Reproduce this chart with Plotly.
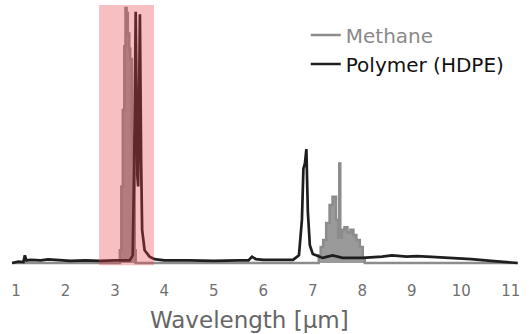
import plotly.graph_objects as go

# Wavelength grid (µm) and absorbance (normalised)
hdpe_wl = [0.92, 1.05, 1.15, 1.18, 1.21, 1.3, 1.5, 1.65, 1.8, 2.1, 2.4, 2.7, 3.0, 3.3, 3.36, 3.39,
           3.42, 3.45, 3.47, 3.505, 3.53, 3.55, 3.6, 3.7, 3.8, 4.0, 4.5, 5.0, 5.5, 5.7, 5.77,
           5.85, 6.0, 6.2, 6.4, 6.6, 6.72, 6.78, 6.81, 6.84, 6.87, 6.9, 6.94, 7.0, 7.2,
           7.4, 7.6, 8.0, 8.4, 8.6, 8.9, 9.1, 9.4, 9.8, 10.2, 10.6, 11.0, 11.14]
hdpe_abs = [0.0, 0.005, 0.004, 0.03, 0.01, 0.012, 0.01, 0.014, 0.012, 0.008, 0.01, 0.008, 0.01,
            0.01, 0.03, 0.4, 0.985, 0.35, 0.3, 0.975, 0.4, 0.13, 0.05, 0.025, 0.015, 0.01,
            0.01, 0.008, 0.01, 0.01, 0.025, 0.015, 0.012, 0.012, 0.01, 0.012, 0.03, 0.17,
            0.37, 0.39, 0.447, 0.2, 0.07, 0.035, 0.02, 0.03, 0.02, 0.02, 0.025, 0.03, 0.025,
            0.027, 0.024, 0.02, 0.015, 0.008, 0.004, 0.0]

methane_wl = [0.92, 3.08, 3.10, 3.13, 3.16, 3.19, 3.215, 3.235, 3.26, 3.29, 3.31, 3.33, 3.34,
              3.36, 3.39, 3.40, 3.42, 7.08, 7.12, 7.16, 7.21, 7.27, 7.34, 7.40, 7.47, 7.51,
              7.535, 7.555, 7.59, 7.64, 7.70, 7.76, 7.82, 7.88, 7.95, 8.01, 8.05, 11.14]
methane_abs = [0.0, 0.0, 0.05, 0.3, 0.6, 0.85, 1.0, 0.98, 0.9, 0.84, 0.8, 0.8, 0.5, 0.4, 0.35,
               0.05, 0.0, 0.0, 0.03, 0.063, 0.09, 0.157, 0.227, 0.26, 0.17, 0.1, 0.39, 0.1,
               0.13, 0.14, 0.12, 0.13, 0.11, 0.09, 0.063, 0.02, 0.0, 0.0]

x_ticks = [1, 2, 3, 4, 5, 6, 7, 8, 9, 10, 11]
highlight = [2.68, 3.79]

fig = go.Figure()
# methane filled band (no legend entry)
fig.add_trace(go.Scatter(
    x=methane_wl, y=methane_abs, mode="lines", line_shape="hv", showlegend=False,
    line=dict(color="#8c8c8c", width=1.5), fill="tozeroy", fillcolor="#9a9a9a",
    hoverinfo="skip"))
# methane outline (legend entry as a line)
fig.add_trace(go.Scatter(
    x=methane_wl, y=methane_abs, mode="lines", line_shape="hv",
    name="<span style='color:#8a8a8a'>Methane</span>",
    line=dict(color="#8c8c8c", width=2.5)))
fig.add_trace(go.Scatter(
    x=hdpe_wl, y=hdpe_abs, mode="lines",
    name="<span style='color:#111111'>Polymer (HDPE)</span>",
    line=dict(color="#1e1e1e", width=2.7)))

fig.add_shape(type="rect", xref="x", yref="paper", x0=highlight[0], x1=highlight[1],
              y0=0.01, y1=1.0, line_width=0, fillcolor="rgba(235,60,70,0.33)", layer="above")

fig.add_annotation(text="Wavelength [µm]", xref="paper", yref="paper", x=0.4716, y=-0.198,
                   xanchor="center", yanchor="middle", showarrow=False,
                   font=dict(size=23, color="#666666", family="DejaVu Sans"))

fig.update_layout(
    width=529, height=334,
    margin=dict(l=0, r=0, t=5, b=66),
    paper_bgcolor="white", plot_bgcolor="white",
    font=dict(family="DejaVu Sans", color="#666666"),
    showlegend=True,
    legend=dict(x=0.578, y=0.96, xanchor="left", yanchor="top",
                font=dict(size=20), bgcolor="rgba(0,0,0,0)", tracegroupgap=0),
    xaxis=dict(range=[0.677, 11.37], tickvals=x_ticks, ticktext=[str(t) for t in x_ticks],
               showgrid=False, zeroline=False, showline=False,
               ticks="outside", ticklen=9, tickcolor="rgba(0,0,0,0)",
               tickfont=dict(size=15, color="#707070")),
    yaxis=dict(range=[-0.0196, 1.0118], visible=False, showgrid=False, zeroline=False),
)

fig.write_html("out.html", config={"displayModeBar": False},
               post_script="document.body.style.margin='0px';")
